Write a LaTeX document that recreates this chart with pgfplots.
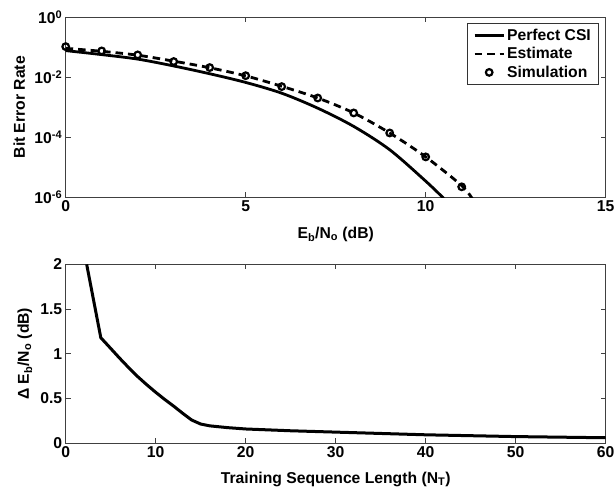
\documentclass[border=0pt]{standalone}
\usepackage{fontspec}
\setmainfont{Liberation Sans}
\usepackage{pgfplots}
\pgfplotsset{compat=1.18}
\begin{document}
\begin{tikzpicture}
\pgfplotsset{
  myaxis/.style={
    scale only axis, width=540bp,
    font=\fontsize{15.7bp}{19bp}\selectfont\bfseries,
    tick label style={font=\fontsize{15.7bp}{19bp}\selectfont\bfseries},
    /pgf/number format/assume math mode=true,
    axis line style={black!75, line width=0.9bp},
    every tick/.style={black!75, line width=0.9bp},
    major tick length=5bp,
    tick align=inside,
    legend image code/.code={\draw[mark repeat=2,mark phase=2,#1] plot coordinates {(0bp,0bp)(14.5bp,0bp)(29bp,0bp)};},
  }
}
\begin{axis}[myaxis, at={(0,0)}, anchor=south west, height=179.5bp,
  ymode=log, xmin=0, xmax=15, ymin=1e-6, ymax=1,
  xtick={0,5,10,15},
  ytick={1,1e-2,1e-4,1e-6},
  yticklabels={10\textsuperscript{0},10\textsuperscript{-2},10\textsuperscript{-4},10\textsuperscript{-6}},
  yminorticks=false,
  xlabel={E\textsubscript{b}/N\textsubscript{o} (dB)},
  ylabel={Bit Error Rate},
  xlabel style={at={(axis description cs:0.5,0)}, anchor=base, yshift=-41bp},
  ylabel style={at={(axis description cs:-0.0754,0.5)}, anchor=base},
  legend style={at={(1,1)}, anchor=north east, xshift=-6.4bp, yshift=-5.8bp,
    draw=black!80, line width=0.9bp, font=\fontsize{15.7bp}{19bp}\selectfont\bfseries,
    inner xsep=6bp, inner ysep=3.5bp, row sep=1.5bp},
  legend cell align=left,
]
\addplot[black, line width=2.8bp, smooth] coordinates {
(0,0.0782) (1,0.0575) (2,0.0407) (3,0.0240) (4,0.01318) (5,0.00676)
(6,0.00295) (7,9.33e-4) (8,2.29e-4) (9,3.80e-5) (10,3.39e-6) (10.5,9.0e-7)
};
\addlegendentry{Perfect CSI}
\addplot[black, line width=2.8bp, dash pattern=on 7.5bp off 5bp, smooth] coordinates {
(0,0.0933) (1,0.0741) (2,0.0550) (3,0.0347) (4,0.0209) (5,0.0112)
(6,0.00501) (7,0.00204) (8,6.46e-4) (9,1.38e-4) (10,2.19e-5) (11,2.40e-6) (11.3,8.5e-7)
};
\addlegendentry{Estimate}
\addplot[black, only marks, mark=o, mark size=3.3bp, mark options={line width=2.2bp, fill=white}] coordinates {
(0,0.1064) (1,0.0764) (2,0.0562) (3,0.0337) (4,0.0212) (5,0.01135)
(6,0.0049) (7,0.00204) (8,6.46e-4) (9,1.38e-4) (10,2.19e-5) (11,2.19e-6)
};
\addlegendentry{Simulation}
\end{axis}
\begin{axis}[myaxis, at={(0,-246.3bp)}, anchor=south west, height=179bp,
  xmin=0, xmax=60, ymin=0, ymax=2,
  xtick={0,10,20,30,40,50,60},
  ytick={0,0.5,1,1.5,2},
  xlabel={Training Sequence Length (N\textsubscript{T})},
  ylabel={Δ E\textsubscript{b}/N\textsubscript{o} (dB)},
  xlabel style={at={(axis description cs:0.5,0)}, anchor=base, yshift=-40bp},
  ylabel style={at={(axis description cs:-0.068,0.5)}, anchor=base},
]
\addplot[black, line width=3bp, line join=round] coordinates {
(2.33,2.0) (3.9,1.18) (5,1.06) (6,0.95) (7,0.845) (8,0.745) (9,0.655)
(10,0.57) (11,0.49) (12,0.415) (13,0.335) (14,0.26) (15,0.215) (16,0.195)
(18,0.175) (20,0.16) (25,0.14) (30,0.125) (40,0.095) (50,0.075) (60,0.062)
};
\end{axis}
\pgfresetboundingbox
\path[use as bounding box] (-65.7bp,-295bp) rectangle (550.3bp,197bp);
\end{tikzpicture}
\end{document}
